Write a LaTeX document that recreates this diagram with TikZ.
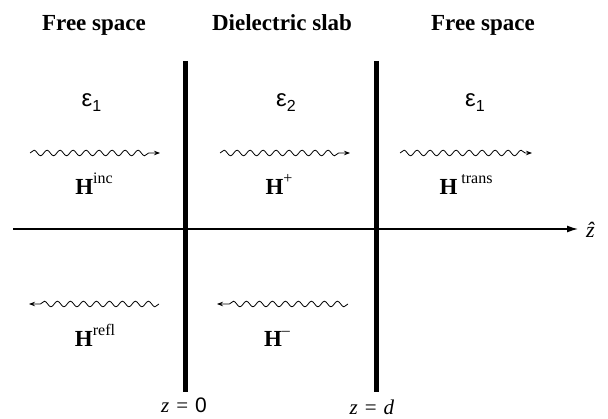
\documentclass[tikz,border=0pt]{standalone}
\usepackage{fontspec}
\setmainfont{Liberation Serif}
\setsansfont{Liberation Sans}
\usetikzlibrary{arrows.meta,decorations.pathmorphing}

\newcommand{\fieldsup}[1]{\raisebox{11pt}{\normalfont\fontsize{16}{18}\selectfont #1}}
\newcommand{\permsub}[1]{\raisebox{-5pt}{\fontsize{16}{18}\selectfont #1}}

\begin{document}
\begin{tikzpicture}[x=1pt, y=-1pt,
    region/.style={anchor=base, font=\fontsize{23}{26}\selectfont\bfseries},
    perm/.style={anchor=base, font=\sffamily\fontsize{24}{28}\selectfont},
    field/.style={anchor=base, font=\fontsize{23}{26}\selectfont\bfseries},
    zlabel/.style={anchor=base, font=\fontsize{21}{24}\selectfont},
    wave/.style={decorate, decoration={snake, amplitude=2.8pt, segment length=13pt, post length=6pt},
        -{Stealth[length=6pt, width=4.5pt]}, line width=0.8pt},
    wall/.style={line width=5pt}]
    \useasboundingbox (0,0) rectangle (608,419);

    % Region titles
    \node[region] (left-title) at (94,31) {Free space};
    \node[region] (slab-title) at (282,31) {Dielectric slab};
    \node[region] (right-title) at (483,31) {Free space};

    % Permittivities
    \node[perm] (eps-left) at (91.5,107) {ε\permsub{1}};
    \node[perm] (eps-slab) at (286,107) {ε\permsub{2}};
    \node[perm] (eps-right) at (475,107) {ε\permsub{1}};

    % z axis
    \coordinate (axis-start) at (13,229);
    \node[anchor=west, inner sep=0pt, font=\fontsize{22}{24}\selectfont] (zhat) at (586,230) {\textit{\^{z}}};
    \draw[line width=1.3pt, -{Latex[length=11pt, width=7pt]}, shorten >=8pt] (axis-start) -- (axis-start -| zhat.west);

    % Interfaces
    \foreach \w/\x in {w0/185.5, wd/376.5} {
        \coordinate (\w-top) at (\x,61);
        \coordinate (\w-bot) at (\x,392);
        \draw[wall] (\w-top) -- (\w-bot);
    }
    \node[zlabel] (z0) at (184,413) {\textit{z}\hspace{7pt}=\hspace{7pt}\textsf{0}};
    \node[zlabel] (zd) at (372,415) {\textit{z}\hspace{7pt}=\hspace{7pt}\textit{d}};

    % Waves (start/end x, height)
    \foreach \n/\xa/\xb/\y in {inc/30/160/153, plus/220/350/153, trans/400/532/153, refl/159/29/304, minus/348/217/304} {
        \coordinate (\n-s) at (\xa,\y);
        \coordinate (\n-e) at (\xb,\y);
        \draw[wave] (\n-s) -- (\n-e);
    }

    % Field labels
    \node[field] (h-inc) at (94,195) {H\fieldsup{inc}};
    \node[field] (h-plus) at (279,195) {H\fieldsup{+}};
    \node[field] (h-trans) at (466,195) {H\hspace{4pt}\fieldsup{trans}};
    \node[field] (h-refl) at (95,347) {H\fieldsup{refl}};
    \node[field] (h-minus) at (277,347) {H\fieldsup{–}};
\end{tikzpicture}
\end{document}
